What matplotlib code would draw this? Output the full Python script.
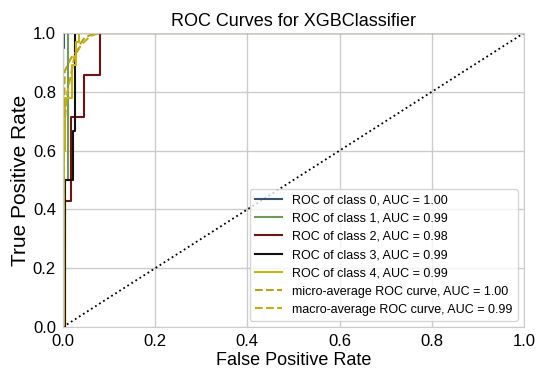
import matplotlib
matplotlib.use("Agg")
import matplotlib.pyplot as plt

plt.rcParams['font.family'] = ['Liberation Sans', 'DejaVu Sans']

# per-class ROC curves
class_labels = ["ROC of class 0, AUC = 1.00",
                "ROC of class 1, AUC = 0.99",
                "ROC of class 2, AUC = 0.98",
                "ROC of class 3, AUC = 0.99",
                "ROC of class 4, AUC = 0.99"]
class_colors = ["#34536e", "#6f9a58", "#6e1414", "#111111", "#c8b414"]

fpr0 = [0.0, 0.0, 0.003, 0.003, 1.0]
tpr0 = [0.0, 0.95, 0.95, 1.0, 1.0]
fpr1 = [0.0, 0.0, 0.012, 0.012, 1.0]
tpr1 = [0.0, 0.5, 0.5, 1.0, 1.0]
fpr2 = [0.0, 0.004, 0.004, 0.018, 0.018, 0.046, 0.046, 0.08, 0.08, 1.0]
tpr2 = [0.0, 0.0, 0.429, 0.429, 0.714, 0.714, 0.857, 0.857, 1.0, 1.0]
fpr3 = [0.0, 0.005, 0.005, 0.022, 0.022, 0.027, 0.027, 1.0]
tpr3 = [0.0, 0.0, 0.5, 0.5, 0.667, 0.667, 1.0, 1.0]
fpr4 = [0.0, 0.002, 0.002, 0.004, 0.004, 0.02, 0.02, 0.028, 0.028, 0.036, 0.036, 1.0]
tpr4 = [0.0, 0.0, 0.6, 0.6, 0.78, 0.78, 0.89, 0.89, 0.97, 0.97, 1.0, 1.0]

fpr_micro = [0.0, 0.002, 0.004, 0.018, 0.033, 0.039, 0.047, 0.061, 0.08, 1.0]
tpr_micro = [0.0, 0.6, 0.87, 0.915, 0.943, 0.966, 0.983, 0.994, 1.0, 1.0]
fpr_macro = [0.0, 0.0, 0.004, 0.01, 0.018, 0.025, 0.04, 0.06, 0.08, 1.0]
tpr_macro = [0.0, 0.55, 0.7, 0.8, 0.86, 0.92, 0.96, 0.99, 1.0, 1.0]

fig = plt.figure(figsize=(5.37, 3.70), dpi=100)
ax = fig.add_axes([0.117, 0.116, 0.859, 0.795])

curves = [(fpr0, tpr0), (fpr1, tpr1), (fpr2, tpr2), (fpr3, tpr3), (fpr4, tpr4)]
for (f, t), lab, col in zip(curves, class_labels, class_colors):
    ax.plot(f, t, color=col, lw=1.5, label=lab)

ax.plot(fpr_micro, tpr_micro, ls="--", color="#b4a21e", lw=1.5,
        label="micro-average ROC curve, AUC = 1.00")
ax.plot(fpr_macro, tpr_macro, ls="--", color="#c2ae12", lw=1.5,
        label="macro-average ROC curve, AUC = 0.99")

ax.plot([0, 1], [0, 1], ls=":", color="black", lw=1.3)

ax.set_xlim(0, 1)
ax.set_ylim(0, 1)
ax.set_xticks([0.0, 0.2, 0.4, 0.6, 0.8, 1.0])
ax.set_yticks([0.0, 0.2, 0.4, 0.6, 0.8, 1.0])
ax.grid(True, color="#cccccc", lw=1.0)
ax.set_axisbelow(True)
for s in ax.spines.values():
    s.set_color("#cccccc")
ax.tick_params(length=0, labelsize=12, pad=5)

ax.set_title("ROC Curves for XGBClassifier", fontsize=13, pad=5)
ax.set_xlabel("False Positive Rate", fontsize=13, labelpad=2.5)
ax.set_ylabel("True Positive Rate", fontsize=15, labelpad=2)

ax.legend(loc="lower right", fontsize=9, frameon=True, framealpha=0.8,
          edgecolor="#cccccc", fancybox=True, handlelength=2.2,
          handletextpad=0.8)

fig.savefig("out.png", dpi=100)
